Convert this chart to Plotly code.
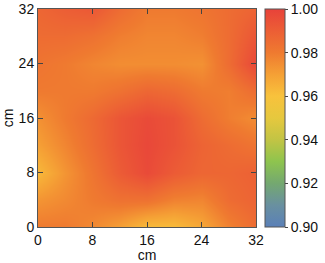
import plotly.graph_objects as go

x_cm = [0, 4, 8, 12, 16, 20, 24, 28, 32]
y_cm = [0, 4, 8, 12, 16, 20, 24, 28, 32]
# rows ordered by y (0 -> 32), columns by x (0 -> 32)
uniformity = [
    [0.980, 0.980, 0.976, 0.970, 0.962, 0.962, 0.968, 0.978, 0.985],
    [0.973, 0.976, 0.980, 0.983, 0.983, 0.978, 0.977, 0.985, 0.988],
    [0.963, 0.973, 0.982, 0.991, 0.997, 0.991, 0.987, 0.987, 0.989],
    [0.970, 0.977, 0.985, 0.993, 0.998, 0.994, 0.988, 0.985, 0.982],
    [0.974, 0.980, 0.986, 0.993, 0.997, 0.994, 0.985, 0.979, 0.975],
    [0.980, 0.980, 0.980, 0.983, 0.987, 0.985, 0.980, 0.979, 0.985],
    [0.982, 0.980, 0.977, 0.975, 0.975, 0.975, 0.974, 0.985, 0.998],
    [0.985, 0.985, 0.983, 0.979, 0.977, 0.977, 0.979, 0.985, 0.993],
    [0.987, 0.990, 0.992, 0.985, 0.980, 0.980, 0.982, 0.985, 0.988],
]
axis_ticks = [0, 8, 16, 24, 32]
cbar_ticks = [0.90, 0.92, 0.94, 0.96, 0.98, 1.00]

colorscale = [
    [0.0, "#5a80b8"],
    [0.1, "#6990a0"],
    [0.2, "#74a870"],
    [0.3, "#8ec44e"],
    [0.4, "#c2c444"],
    [0.5, "#e6c83e"],
    [0.6, "#f8c23c"],
    [0.7, "#f5a035"],
    [0.8, "#ef7a30"],
    [0.9, "#ec5e35"],
    [1.0, "#e8423a"],
]

fig = go.Figure(go.Heatmap(
    x=x_cm, y=y_cm, z=uniformity,
    zmin=0.90, zmax=1.00, zsmooth="best",
    colorscale=colorscale,
    colorbar=dict(
        x=1.041, xanchor="left", xref="paper",
        y=0, yanchor="bottom", len=1, lenmode="fraction",
        thickness=20, thicknessmode="pixels",
        outlinecolor="#555555", outlinewidth=1,
        ticks="outside", ticklen=3, tickcolor="#444444",
        tickvals=cbar_ticks, ticktext=[f"{v:.2f}" for v in cbar_ticks],
        tickfont=dict(size=14, color="#111111", family="Liberation Sans, Arial"),
        ypad=0, xpad=0,
    ),
))

axis_common = dict(
    range=[0, 32], tickvals=axis_ticks, ticks="inside", ticklen=5,
    tickcolor="#444444", showline=True, linecolor="#555555", linewidth=1,
    mirror="ticks", showgrid=False, zeroline=False, automargin=False,
    tickfont=dict(size=14, color="#111111", family="Liberation Sans, Arial"),
    title_font=dict(size=14, color="#111111", family="Liberation Sans, Arial"),
)
fig.update_xaxes(title_text="cm", title_standoff=0, **axis_common)
fig.update_yaxes(title_text="cm", title_standoff=4, **axis_common)

fig.update_layout(
    width=325, height=263,
    margin=dict(l=38, r=69, t=9, b=36, autoexpand=False),
    paper_bgcolor="white", plot_bgcolor="white",
    font=dict(family="Liberation Sans, Arial", size=14),
)

fig.write_html("out.html")
